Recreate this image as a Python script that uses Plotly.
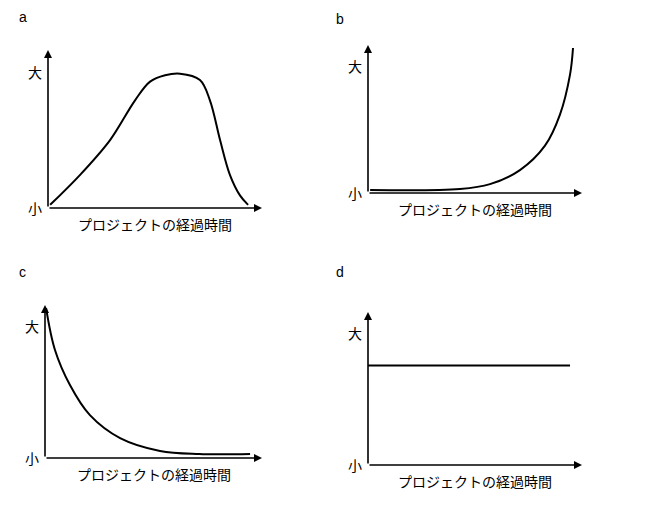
import plotly.graph_objects as go

W, H = 670, 515
OFF = 8  # page body margin
# curve data (axis units 0..10)
a_x = [0.1, 1.5, 2.9, 4.06, 4.77, 5.47, 6.17, 7.1, 7.57, 8.04, 8.5, 8.97, 9.35]
a_y = [0.2, 2.1, 4.3, 6.8, 8.0, 8.4, 8.5, 8.1, 6.8, 4.3, 2.1, 0.8, 0.2]
b_x = [0.1, 4.3, 5.7, 7.1, 8.27, 8.97, 9.44, 9.58]
b_y = [0.2, 0.27, 0.6, 1.55, 3.2, 5.3, 8.0, 9.8]
c_x = [0.05, 0.46, 1.15, 2.07, 3.46, 5.3, 7.1, 9.45]
c_y = [9.8, 7.06, 4.77, 2.8, 1.3, 0.46, 0.26, 0.26]
d_x = [0.0, 9.44]
d_y = [6.5, 6.5]
letters = ["a", "b", "c", "d"]
xlabel = "プロジェクトの経過時間"
big, small = "大", "小"

boxes = [(48, 262, 208, 50), (368, 582, 193, 45), (45, 262, 458, 305), (368, 582, 465, 312)]
letter_pos = [(22, 18), (345, 20), (22, 283), (345, 283)]
curves = [(a_x, a_y), (b_x, b_y), (c_x, c_y), (d_x, d_y)]
shape = ["spline", "spline", "spline", "linear"]

fig = go.Figure()
ann = []
CJK = "Noto Sans CJK JP"
for i, ((x0, x1, yb, yt), (cx, cy)) in enumerate(zip(boxes, curves)):
    x0 -= OFF; x1 -= OFF; yb -= OFF; yt -= OFF
    n = i + 1
    xa = "x" if n == 1 else f"x{n}"
    ya = "y" if n == 1 else f"y{n}"
    fig.add_trace(go.Scatter(x=cx, y=cy, mode="lines", xaxis=xa, yaxis=ya,
                             line=dict(color="black", width=2, shape=shape[i], smoothing=1.0),
                             showlegend=False, hoverinfo="skip"))
    axkw = dict(range=[0, 10], visible=False, fixedrange=True)
    fig.update_layout(**{
        ("xaxis" if n == 1 else f"xaxis{n}"): dict(domain=[x0 / W, x1 / W], anchor=ya, **axkw),
        ("yaxis" if n == 1 else f"yaxis{n}"): dict(domain=[1 - yb / H, 1 - yt / H], anchor=xa, **axkw),
    })
    for (tx, ty) in [(10, 0), (0, 10)]:
        ann.append(dict(x=tx, y=ty, ax=0, ay=0, xref=xa, yref=ya, axref=xa, ayref=ya,
                        showarrow=True, arrowhead=2, arrowsize=1, arrowwidth=1.6,
                        arrowcolor="black", text=""))
    ann.append(dict(x=0, y=8.6, xref=xa, yref=ya, text=big, showarrow=False,
                    xanchor="right", xshift=-4, font=dict(family=CJK, size=14, color="black")))
    ann.append(dict(x=0, y=0, xref=xa, yref=ya, text=small, showarrow=False,
                    xanchor="right", xshift=-4, font=dict(family=CJK, size=14, color="black")))
    ann.append(dict(x=5, y=0, xref=xa, yref=ya, text=xlabel, showarrow=False,
                    yanchor="top", yshift=-4, font=dict(family=CJK, size=14, color="black")))
    lx, ly = letter_pos[i]
    ann.append(dict(x=(lx - OFF - 5) / W, y=1 - (ly - OFF - 11) / H, xref="paper", yref="paper",
                    text=letters[i], showarrow=False,
                    font=dict(family="Liberation Sans", size=14, color="black")))

fig.update_layout(width=W, height=H, margin=dict(l=0, r=0, t=0, b=0),
                  plot_bgcolor="white", paper_bgcolor="white", annotations=ann)
fig.write_html("out.html")
